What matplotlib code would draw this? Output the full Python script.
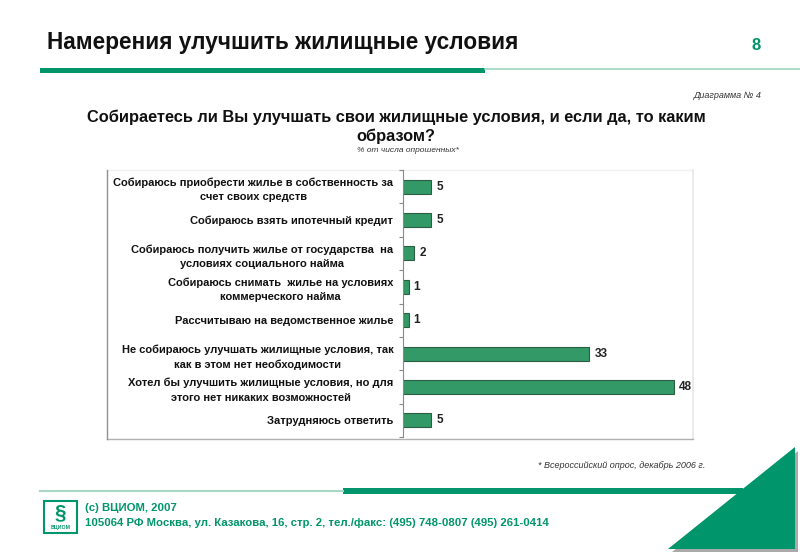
import numpy as np
import matplotlib as mpl
mpl.use('Agg')
import matplotlib.pyplot as plt
from matplotlib.patches import Rectangle, Polygon

plt.rcParams['font.family'] = ['Liberation Sans', 'DejaVu Sans']

# данные диаграммы
categories = [
    'Собираюсь приобрести жилье в собственность за\nсчет своих средств',
    'Собираюсь взять ипотечный кредит',
    'Собираюсь получить жилье от государства  на\nусловиях социального найма',
    'Собираюсь снимать  жилье на условиях\nкоммерческого найма',
    'Рассчитываю на ведомственное жилье',
    'Не собираюсь улучшать жилищные условия, так\nкак в этом нет необходимости',
    'Хотел бы улучшить жилищные условия, но для\nэтого нет никаких возможностей',
    'Затрудняюсь ответить',
]
values = [5, 5, 2, 1, 1, 33, 48, 5]

title = 'Намерения улучшить жилищные условия'
question = 'Собираетесь ли Вы улучшать свои жилищные условия, и если да, то каким\nобразом?'
subtitle = '% от числа опрошенных*'
footnote = '* Всероссийский опрос, декабрь 2006 г.'

GREEN = '#00956a'
BAR = '#339966'

W, H = 800, 554
fig = plt.figure(figsize=(W / 100, H / 100), dpi=100)

# фон-слой в пикселях для оформления слайда
bg = fig.add_axes([0, 0, 1, 1])
bg.set_xlim(0, W)
bg.set_ylim(H, 0)
bg.axis('off')

bg.text(47, 42, title, fontsize=16.3, fontweight='bold', va='center', ha='left', color='#111111')
bg.text(756, 45, '8', fontsize=12, fontweight='bold', va='center', ha='center', color=GREEN)
bg.add_patch(Rectangle((40, 68), 445, 4.5, color=GREEN, lw=0))
bg.plot([485, 800], [69, 69], color='#9fd5bf', lw=1.2)

bg.text(762, 95, 'Диаграмма № 4', fontsize=6.5, style='italic', ha='right', va='center', color='#333333')
bg.text(396, 127, question, fontsize=11.8, fontweight='bold', ha='center', va='center',
        linespacing=1.3, multialignment='center', color='#111111')
bg.text(408, 150, subtitle, fontsize=6, style='italic', ha='center', va='center', color='#333333')

# рамка диаграммы
bg.plot([107, 693], [170, 170], color='#f0f0f0', lw=1)
bg.plot([693, 693], [170, 439], color='#e8e8e8', lw=1.2)
bg.plot([107, 693], [439, 439], color='#b0b0b0', lw=1)
bg.plot([107, 107], [170, 439], color='#909090', lw=1)

bg.text(705, 465, footnote, fontsize=6.5, style='italic', ha='right', va='center', color='#333333')

# нижняя часть слайда
bg.plot([40, 343], [491, 491], color='#a8d8c4', lw=1.5)
bg.add_patch(Rectangle((343, 488), 400, 6, color=GREEN, lw=0))
bg.add_patch(Polygon([(672, 552), (798, 451), (798, 552)], closed=True, color='#aaaaaa', lw=0))
bg.add_patch(Polygon([(668, 549), (795, 447), (795, 549)], closed=True, color=GREEN, lw=0))

bg.add_patch(Rectangle((44, 501), 33, 32, fill=False, ec=GREEN, lw=1.5))
bg.text(60.5, 513, '§', fontsize=15, ha='center', va='center', color=GREEN, fontweight='bold')
bg.text(60.5, 528, 'ВЦИОМ', fontsize=3.8, ha='center', va='center', color=GREEN, fontweight='bold')
bg.text(85, 508, '(c) ВЦИОМ, 2007', fontsize=8.2, fontweight='bold', ha='left', va='center', color=GREEN)
bg.text(85, 523, '105064 РФ Москва, ул. Казакова, 16, стр. 2, тел./факс: (495) 748-0807 (495) 261-0414',
        fontsize=8.2, fontweight='bold', ha='left', va='center', color=GREEN)

# сама диаграмма
ax = fig.add_axes([403 / W, 1 - 437 / H, 288 / W, 267 / H])
y = np.arange(len(values))
bars = ax.barh(y, values, height=0.42, color=BAR, edgecolor='#2b5e44', linewidth=0.8)
ax.set_xlim(0, 51)
ax.set_ylim(len(values) - 0.5, -0.5)

ax.set_yticks(y)
ax.set_yticklabels(categories, fontsize=8.0, fontweight='bold', color='#111111',
                   multialignment='center', linespacing=1.55)
ax.tick_params(axis='y', which='major', length=0, pad=7)
ax.set_yticks(np.arange(len(values) + 1) - 0.5, minor=True)
ax.tick_params(axis='y', which='minor', length=3, color='#888888', width=0.8)
ax.set_xticks([])
for s in ['top', 'right', 'bottom']:
    ax.spines[s].set_visible(False)
ax.spines['left'].set_color('#888888')
ax.spines['left'].set_linewidth(0.8)
ax.patch.set_alpha(0)

for yi, v in zip(y, values):
    ax.text(v + 0.9, yi, str(v), fontsize=8.5, fontweight='bold', va='center', ha='left', color='#222222')

fig.savefig('out.png', dpi=100)
